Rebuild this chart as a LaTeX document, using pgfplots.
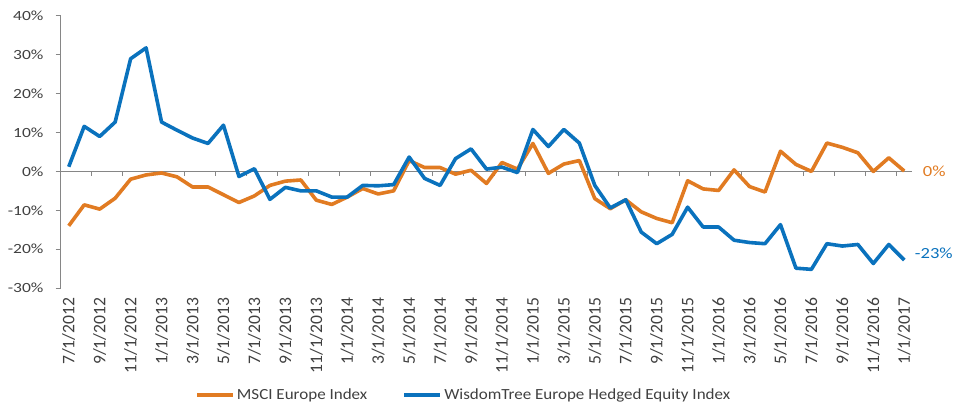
\documentclass[border=0pt]{standalone}
\usepackage{fontspec}
\setmainfont{Carlito}
\newfontfamily\ytfont[FakeStretch=1.25]{Carlito}
\newfontfamily\lgfont[FakeStretch=1.1]{Carlito}
\newfontfamily\endfont[FakeStretch=1.2]{Carlito}
\usepackage{pgfplots}
\usepackage{pgfplotstable}
\pgfplotsset{compat=1.18}
\definecolor{msci}{RGB}{225,123,34}
\definecolor{wt}{RGB}{10,114,189}
\definecolor{axgray}{RGB}{134,134,134}
\definecolor{txt}{RGB}{64,64,64}

\pgfplotstableread{
i msci wt
0 -14.0 1.2
1 -8.6 11.6
2 -9.7 9.0
3 -6.9 12.7
4 -2.0 29.0
5 -0.9 31.8
6 -0.4 12.7
7 -1.4 10.6
8 -4.0 8.6
9 -4.0 7.2
10 -6.0 11.9
11 -8.0 -1.3
12 -6.3 0.7
13 -3.6 -7.2
14 -2.5 -4.1
15 -2.2 -5.0
16 -7.4 -5.0
17 -8.5 -6.6
18 -6.6 -6.6
19 -4.4 -3.6
20 -5.8 -3.7
21 -5.0 -3.4
22 2.8 3.7
23 1.0 -1.8
24 1.0 -3.6
25 -0.7 3.3
26 0.3 5.8
27 -3.1 0.6
28 2.3 1.1
29 0.6 -0.3
30 7.2 10.8
31 -0.5 6.4
32 1.9 10.8
33 2.8 7.3
34 -7.0 -3.6
35 -9.6 -9.4
36 -7.3 -7.3
37 -10.4 -15.6
38 -12.1 -18.6
39 -13.2 -16.2
40 -2.4 -9.2
41 -4.5 -14.3
42 -4.9 -14.3
43 0.4 -17.7
44 -3.9 -18.3
45 -5.3 -18.6
46 5.2 -13.7
47 1.8 -24.9
48 0.0 -25.2
49 7.3 -18.6
50 6.2 -19.2
51 4.8 -18.8
52 0.0 -23.7
53 3.5 -18.8
54 0.1 -22.8
}\data

\begin{document}
\begin{tikzpicture}
\useasboundingbox (-45.75pt,-89.25pt) rectangle (669.75pt,216pt);
\begin{axis}[
  at={(0pt,0pt)}, anchor=south west,
  scale only axis, width=638.25pt, height=204pt,
  xmin=-0.5, xmax=54.5, ymin=-30, ymax=40,
  clip=false,
  axis y line*=left, axis x line*=bottom,
  x axis line style={draw=none},
  y axis line style={draw=axgray, line width=0.75pt},
  tick align=outside,
  major tick length=4pt,
  ytick={-30,-20,-10,0,10,20,30,40},
  yticklabels={-30\%,-20\%,-10\%,0\%,10\%,20\%,30\%,40\%},
  ytick style={draw=axgray, line width=0.75pt},
  yticklabel style={font=\ytfont\fontsize{10.5}{12}\selectfont, text=txt, anchor=east, inner sep=0pt},
  yticklabel shift=9pt,
  xtick={0,2,...,54},
  xticklabels={7/1/2012,9/1/2012,11/1/2012,1/1/2013,3/1/2013,5/1/2013,7/1/2013,9/1/2013,11/1/2013,1/1/2014,3/1/2014,5/1/2014,7/1/2014,9/1/2014,11/1/2014,1/1/2015,3/1/2015,5/1/2015,7/1/2015,9/1/2015,11/1/2015,1/1/2016,3/1/2016,5/1/2016,7/1/2016,9/1/2016,11/1/2016,1/1/2017},
  xtick style={draw=none},
  xticklabel style={rotate=90, anchor=east, font=\fontsize{13.2}{15}\selectfont, text=txt, inner sep=0pt},
  xticklabel shift=3pt,
  legend columns=2,
  legend style={at={(axis description cs:0.1575,-0.393)}, anchor=west, draw=none, fill=none,
    font=\lgfont\fontsize{11.6}{13}\selectfont, text=txt, inner sep=0pt,
    nodes={inner sep=1.5pt}, /tikz/every even column/.append style={column sep=25pt}},
  legend image code/.code={\draw[#1, line width=2.7pt] (0pt,0pt) -- (27pt,0pt);},
]
\draw[axgray, line width=0.75pt] (axis cs:-0.5,0) -- (axis cs:54.5,0);
\draw[axgray, line width=0.75pt]
  (axis cs:1.5,0) -- (axis cs:1.5,-1.3) (axis cs:3.5,0) -- (axis cs:3.5,-1.3)
  (axis cs:5.5,0) -- (axis cs:5.5,-1.3) (axis cs:7.5,0) -- (axis cs:7.5,-1.3)
  (axis cs:9.5,0) -- (axis cs:9.5,-1.3) (axis cs:11.5,0) -- (axis cs:11.5,-1.3)
  (axis cs:13.5,0) -- (axis cs:13.5,-1.3) (axis cs:15.5,0) -- (axis cs:15.5,-1.3)
  (axis cs:17.5,0) -- (axis cs:17.5,-1.3) (axis cs:19.5,0) -- (axis cs:19.5,-1.3)
  (axis cs:21.5,0) -- (axis cs:21.5,-1.3) (axis cs:23.5,0) -- (axis cs:23.5,-1.3)
  (axis cs:25.5,0) -- (axis cs:25.5,-1.3) (axis cs:27.5,0) -- (axis cs:27.5,-1.3)
  (axis cs:29.5,0) -- (axis cs:29.5,-1.3) (axis cs:31.5,0) -- (axis cs:31.5,-1.3)
  (axis cs:33.5,0) -- (axis cs:33.5,-1.3) (axis cs:35.5,0) -- (axis cs:35.5,-1.3)
  (axis cs:37.5,0) -- (axis cs:37.5,-1.3) (axis cs:39.5,0) -- (axis cs:39.5,-1.3)
  (axis cs:41.5,0) -- (axis cs:41.5,-1.3) (axis cs:43.5,0) -- (axis cs:43.5,-1.3)
  (axis cs:45.5,0) -- (axis cs:45.5,-1.3) (axis cs:47.5,0) -- (axis cs:47.5,-1.3)
  (axis cs:49.5,0) -- (axis cs:49.5,-1.3) (axis cs:51.5,0) -- (axis cs:51.5,-1.3)
  (axis cs:53.5,0) -- (axis cs:53.5,-1.3);
\addplot[msci, line width=2.7pt, line join=round] table[x=i,y=msci]{\data};
\addlegendentry{MSCI Europe Index}
\addplot[wt, line width=2.7pt, line join=round] table[x=i,y=wt]{\data};
\addlegendentry{WisdomTree Europe Hedged Equity Index}
\node[anchor=west, text=msci, font=\endfont\fontsize{11.6}{13}\selectfont, inner sep=0pt] at (axis cs:54.5,0) [xshift=8pt] {0\%};
\node[anchor=west, text=wt, font=\endfont\fontsize{11.6}{13}\selectfont, inner sep=0pt] at (axis cs:54.5,-21.0) [xshift=2pt] {-23\%};
\end{axis}
\end{tikzpicture}
\end{document}
